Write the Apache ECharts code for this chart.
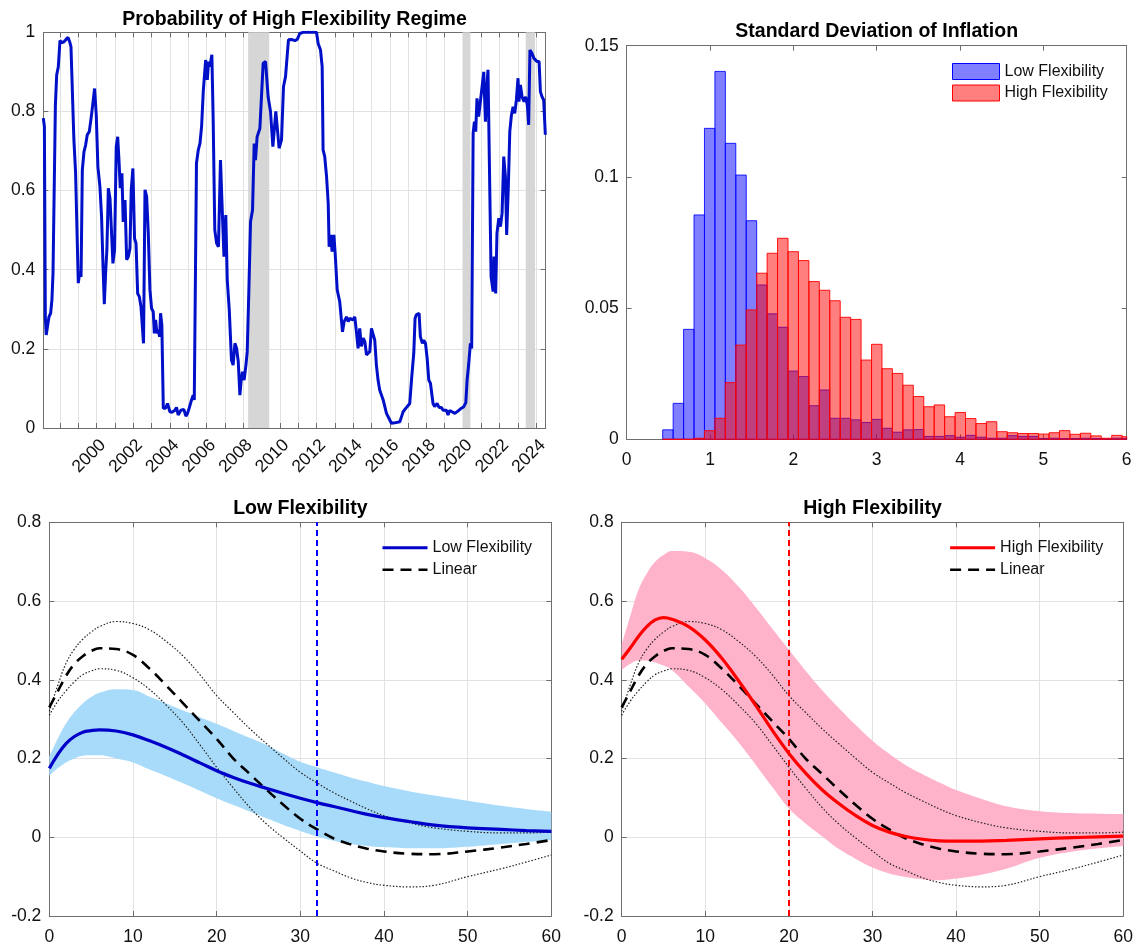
<!DOCTYPE html>
<html><head><meta charset="utf-8">
<script src="https://cdn.jsdelivr.net/npm/echarts@6/dist/echarts.min.js"></script>
<style>html,body{margin:0;padding:0;background:#fff}#c{width:1138px;height:948px}</style>
</head><body><div id="c"></div>
<script>
// ---------- Panel 1: probability of high flexibility regime ----------
const probDates = [
1997.09,1997.15,1997.20,1997.25,1997.33,1997.40,1997.49,1997.56,1997.62,1997.69,1997.75,1997.82,1997.91,
1998.00,1998.11,1998.22,1998.33,1998.44,1998.53,1998.60,1998.67,1998.76,1998.85,1998.93,
1999.00,1999.07,1999.15,1999.22,1999.31,1999.40,1999.49,1999.60,1999.71,1999.80,1999.89,1999.98,
2000.07,2000.18,2000.27,2000.35,2000.42,2000.49,2000.56,2000.64,2000.73,2000.82,2000.89,2000.98,
2001.07,2001.15,2001.22,2001.29,2001.38,2001.45,2001.55,2001.64,2001.73,2001.82,2001.89,2001.98,
2002.07,2002.15,2002.24,2002.33,2002.42,2002.56,2002.64,2002.73,2002.82,2002.91,
2003.00,2003.09,2003.15,2003.22,2003.29,2003.36,2003.44,2003.49,2003.56,2003.64,2003.76,2003.87,
2004.00,2004.13,2004.27,2004.36,2004.45,2004.60,2004.69,2004.76,2004.87,2004.96,
2005.05,2005.18,2005.27,2005.33,2005.45,2005.55,2005.64,2005.73,2005.82,2005.95,
2006.04,2006.11,2006.18,2006.29,2006.36,2006.45,2006.55,2006.65,2006.76,2006.85,2006.95,
2007.05,2007.13,2007.24,2007.36,2007.45,2007.55,2007.64,2007.73,2007.82,2007.89,2007.96,
2008.05,2008.15,2008.22,2008.31,2008.40,2008.51,2008.60,2008.67,2008.76,2008.91,
2009.09,2009.22,2009.36,2009.49,2009.62,2009.78,2009.96,
2010.09,2010.20,2010.31,2010.40,2010.47,2010.64,2010.82,2010.95,
2011.09,2011.27,2012.00,2012.09,2012.22,2012.31,2012.36,2012.45,2012.55,2012.64,2012.69,2012.78,2012.85,2012.95,
2013.02,2013.13,2013.27,2013.42,2013.51,2013.64,2013.73,2013.82,2013.91,
2014.00,2014.09,2014.18,2014.27,2014.36,2014.45,2014.55,2014.64,2014.73,2014.82,2014.91,
2015.00,2015.09,2015.18,2015.27,2015.36,2015.45,2015.55,2015.64,2015.73,2015.82,2015.96,
2016.09,2016.27,2016.55,2016.65,2016.73,2016.91,
2017.09,2017.20,2017.31,2017.38,2017.45,2017.60,2017.67,2017.78,2017.85,2017.95,
2018.04,2018.13,2018.22,2018.29,2018.36,2018.45,2018.58,2018.69,2018.82,2018.91,
2019.00,2019.09,2019.18,2019.27,2019.40,2019.55,2019.64,2019.78,2019.91,
2020.04,2020.15,2020.22,2020.31,2020.40,2020.47,2020.55,2020.62,2020.69,2020.76,2020.85,2020.95,
2021.04,2021.13,2021.22,2021.29,2021.36,2021.45,2021.53,2021.64,2021.69,2021.78,2021.85,2021.95,
2022.04,2022.13,2022.22,2022.31,2022.38,2022.47,2022.55,2022.64,2022.73,2022.82,2022.91,
2023.00,2023.05,2023.13,2023.22,2023.33,2023.42,2023.51,2023.58,2023.65,2023.76,2023.87,2023.96,
2024.04,2024.15,2024.22,2024.31,2024.40,2024.49
];
const probValues = [
0.783,0.762,0.281,0.235,0.26,0.281,0.29,0.323,0.391,0.395,0.816,0.892,0.913,
0.979,0.974,0.976,0.982,0.987,0.976,0.964,0.96,0.728,0.648,0.644,
0.366,0.391,0.382,0.652,0.698,0.715,0.741,0.749,0.787,0.789,0.858,0.791,
0.66,0.61,0.534,0.408,0.313,0.391,0.45,0.606,0.58,0.576,0.416,0.45,
0.711,0.736,0.677,0.606,0.644,0.521,0.576,0.425,0.433,0.454,0.602,0.656,
0.479,0.467,0.34,0.332,0.307,0.214,0.602,0.585,0.492,0.349,
0.302,0.294,0.239,0.273,0.239,0.248,0.231,0.29,0.26,0.05,0.05,0.062,
0.041,0.04,0.045,0.052,0.033,0.045,0.04,0.047,0.03,0.037,
0.05,0.071,0.083,0.071,0.669,0.703,0.719,0.762,0.85,0.93,
0.88,0.926,0.913,0.943,0.783,0.50,0.467,0.458,0.677,0.559,0.433,
0.538,0.374,0.298,0.172,0.159,0.214,0.201,0.168,0.083,0.121,0.142,
0.121,0.159,0.193,0.349,0.521,0.551,0.719,0.677,0.736,0.757,
0.922,0.926,0.837,0.80,0.711,0.80,0.707,
0.728,0.863,0.888,0.888,0.981,0.982,0.979,0.982,
0.997,1.0,1.0,0.972,0.955,0.913,0.703,0.686,0.635,0.568,0.458,0.488,0.446,0.488,
0.441,0.349,0.319,0.243,0.269,0.281,0.269,0.277,0.273,
0.273,0.281,0.243,0.201,0.252,0.206,0.227,0.218,0.185,0.185,0.193,
0.252,0.248,0.222,0.159,0.121,0.096,0.10,0.071,0.054,0.037,0.024,
0.012,0.013,0.016,0.03,0.041,0.052,
0.062,0.13,0.189,0.277,0.286,0.29,0.231,0.214,0.222,0.214,
0.176,0.121,0.113,0.113,0.062,0.054,0.062,0.052,0.052,0.045,
0.05,0.045,0.033,0.044,0.041,0.037,0.041,0.045,0.05,
0.054,0.064,0.121,0.163,0.214,0.201,0.745,0.774,0.749,0.833,0.787,0.791,
0.863,0.90,0.774,0.854,0.905,0.909,0.382,0.345,0.433,0.34,0.492,0.53,
0.509,0.543,0.686,0.635,0.488,0.61,0.749,0.791,0.812,0.795,0.829,
0.884,0.825,0.867,0.837,0.825,0.837,0.816,0.766,0.955,0.947,0.934,0.938,
0.926,0.926,0.85,0.837,0.829,0.741
];
const shadedPeriods = [[2008.27, 2009.42], [2019.97, 2020.40], [2023.42, 2023.93]];
const yearTicks = [1998,1999,2000,2001,2002,2003,2004,2005,2006,2007,2008,2009,2010,2011,2012,2013,2014,2015,2016,2017,2018,2019,2020,2021,2022,2023,2024];
const yearLabels = [2000,2002,2004,2006,2008,2010,2012,2014,2016,2018,2020,2022,2024];

// ---------- Panel 2: histogram of std. dev. of inflation ----------
const binStart = 0.432;
const binWidth = 0.1253;
const lowHist = [0.0036,0.0137,0.0419,0.0855,0.1185,0.1402,0.1128,0.1007,0.0833,0.0588,0.0478,0.0427,0.026,0.0239,0.0128,0.0188,0.008,0.008,0.0074,0.0064,0.0076,0.0042,0.0027,0.0036,0.0037,0.0011,0.0011,0.0014,0.0008,0.0015,0.0008,0.0004,0.0004,0.0014,0.0011,0.0011,0.0003,0.0004,0.0003,0.0003,0.0004,0.0003,0.0002,0.0004,0.0003];
const highHist = [0,0,0,0.0004,0.0033,0.008,0.0216,0.0359,0.0493,0.0633,0.0709,0.0766,0.0715,0.0681,0.0601,0.0568,0.0528,0.0465,0.0457,0.0302,0.0362,0.0269,0.0251,0.0206,0.0163,0.0124,0.0131,0.0086,0.0102,0.0079,0.006,0.0067,0.0029,0.0025,0.0022,0.0022,0.002,0.0025,0.0033,0.0019,0.0023,0.0013,0.0004,0.0015,0.001];

// ---------- Panels 3/4: impulse responses ----------
const irfHorizon = [0,1,2,3,4,5,6,8,10,12,14,16,18,20,22,24,26,28,30,32,34,36,38,40,43,46,50,54,57,60];
const lowIrf   = [0.175,0.21,0.238,0.256,0.267,0.271,0.273,0.27,0.26,0.245,0.228,0.209,0.189,0.169,0.152,0.137,0.124,0.111,0.099,0.088,0.078,0.068,0.058,0.05,0.04,0.031,0.024,0.02,0.017,0.015];
const lowUpper = [0.205,0.25,0.289,0.318,0.34,0.356,0.367,0.376,0.374,0.357,0.34,0.322,0.305,0.288,0.27,0.252,0.234,0.212,0.192,0.178,0.165,0.152,0.141,0.13,0.117,0.106,0.093,0.08,0.072,0.065];
const lowLower = [0.156,0.175,0.19,0.2,0.207,0.208,0.208,0.2,0.19,0.172,0.155,0.137,0.118,0.099,0.082,0.065,0.048,0.031,0.016,0.002,-0.009,-0.017,-0.022,-0.025,-0.028,-0.028,-0.024,-0.017,-0.012,-0.007];
const linearIrf   = [0.33,0.37,0.41,0.44,0.46,0.473,0.48,0.478,0.463,0.428,0.385,0.34,0.295,0.25,0.2,0.16,0.12,0.082,0.047,0.02,-0.003,-0.018,-0.029,-0.036,-0.042,-0.043,-0.036,-0.026,-0.017,-0.007];
const linearUpper = [0.32,0.385,0.442,0.478,0.503,0.521,0.535,0.548,0.543,0.527,0.497,0.46,0.413,0.36,0.317,0.275,0.237,0.2,0.165,0.138,0.113,0.092,0.072,0.055,0.037,0.024,0.015,0.011,0.011,0.013];
const linearLower = [0.31,0.345,0.372,0.395,0.413,0.422,0.428,0.424,0.405,0.375,0.335,0.29,0.235,0.178,0.125,0.075,0.033,-0.002,-0.035,-0.066,-0.085,-0.103,-0.115,-0.122,-0.126,-0.122,-0.1,-0.08,-0.063,-0.045];
const highIrf   = [0.452,0.48,0.51,0.535,0.552,0.558,0.554,0.535,0.501,0.454,0.397,0.336,0.272,0.213,0.163,0.12,0.085,0.055,0.03,0.013,0.002,-0.005,-0.009,-0.01,-0.01,-0.008,-0.004,-0.001,0.001,0.003];
const highUpper = [0.49,0.56,0.628,0.67,0.70,0.717,0.727,0.725,0.709,0.679,0.636,0.585,0.53,0.476,0.423,0.373,0.328,0.285,0.245,0.212,0.183,0.16,0.139,0.12,0.098,0.079,0.066,0.061,0.06,0.059];
const highLower = [0.425,0.44,0.449,0.449,0.444,0.436,0.425,0.383,0.34,0.29,0.24,0.185,0.128,0.073,0.035,0.002,-0.03,-0.055,-0.077,-0.092,-0.101,-0.107,-0.109,-0.105,-0.095,-0.08,-0.052,-0.036,-0.028,-0.022];
const lowThreshold = 32;
const highThreshold = 20;

// ---------- styling ----------
const FONT = '"Liberation Sans", Arial, Helvetica, sans-serif';
const AXC = '#6e6e6e';
const GRIDC = '#e2e2e2';
const TXT = '#111';
const titleStyle = {fontSize: 19.5, fontWeight: 'bold', color: '#000', fontFamily: FONT};
const tickFont = {color: TXT, fontSize: 17.5, fontFamily: FONT};

function zip(xs, ys) { return xs.map((x, i) => [x, ys[i]]); }
// value-first pairs so that the stack is applied on the value dimension
function zipValueFirst(xs, ys) { return xs.map((x, i) => [ys[i], x]); }
function lineAx(){ return {show: true, onZero: false, lineStyle: {color: AXC, width: 1}}; }
function tickAx(extra){ return Object.assign({show: true, inside: true, length: 5, lineStyle: {color: AXC, width: 1}}, extra || {}); }

function xBottom(gi, min, max, interval, grid, extraLabel, extraTick){
  return {type: 'value', gridIndex: gi, position: 'bottom', min, max, interval,
    axisLine: lineAx(), axisTick: tickAx(extraTick),
    axisLabel: Object.assign({margin: 12}, tickFont, extraLabel || {}),
    splitLine: {show: grid, lineStyle: {color: GRIDC, width: 1}}};
}
function xTop(gi, min, max, interval, title, gap, extraTick){
  return {type: 'value', gridIndex: gi, position: 'top', min, max, interval,
    name: title, nameLocation: 'middle', nameGap: gap, nameTextStyle: titleStyle,
    axisLine: lineAx(), axisTick: tickAx(extraTick), axisLabel: {show: false}, splitLine: {show: false}};
}
function yLeft(gi, min, max, interval, grid){
  return {type: 'value', gridIndex: gi, position: 'left', min, max, interval,
    axisLine: lineAx(), axisTick: tickAx(),
    axisLabel: Object.assign({margin: 8}, tickFont),
    splitLine: {show: grid, lineStyle: {color: GRIDC, width: 1}}};
}
function yRight(gi, min, max, interval){
  return {type: 'value', gridIndex: gi, position: 'right', min, max, interval,
    axisLine: lineAx(), axisTick: tickAx(), axisLabel: {show: false}, splitLine: {show: false}};
}

function histRender(fill, stroke){
  return function(params, api){
    const left = api.value(0);
    const p0 = api.coord([left, api.value(1)]);
    const p1 = api.coord([left + binWidth, 0]);
    const cs = params.coordSys;
    const shape = echarts.graphic.clipRectByRect(
      {x: p0[0], y: p0[1], width: p1[0] - p0[0], height: p1[1] - p0[1]},
      {x: cs.x, y: cs.y, width: cs.width, height: cs.height});
    return shape && {type: 'rect', shape, style: {fill, stroke, lineWidth: 1}};
  };
}

function irfSeries(xi, yi, prefix, name, mean, upper, lower, bandColor, lineColor, dashColor, threshold){
  const stackId = 'band' + xi;
  return [
    {type: 'line', xAxisIndex: xi, yAxisIndex: yi, data: zipValueFirst(irfHorizon, lower), encode: {x: 1, y: 0},
      stack: stackId, stackStrategy: 'all',
      symbol: 'none', smooth: 0.4, lineStyle: {opacity: 0}, silent: true, z: 1},
    {type: 'line', xAxisIndex: xi, yAxisIndex: yi, data: zipValueFirst(irfHorizon, upper.map((u, i) => u - lower[i])), encode: {x: 1, y: 0},
      stack: stackId, stackStrategy: 'all',
      symbol: 'none', smooth: 0.4, lineStyle: {opacity: 0}, areaStyle: {color: bandColor, opacity: 1}, silent: true, z: 1},
    {type: 'line', xAxisIndex: xi, yAxisIndex: yi, data: zip(irfHorizon, linearUpper), symbol: 'none', smooth: 0.4,
      lineStyle: {color: '#222', width: 1.2, type: [1.5, 1.8]}, silent: true, z: 2},
    {type: 'line', xAxisIndex: xi, yAxisIndex: yi, data: zip(irfHorizon, linearLower), symbol: 'none', smooth: 0.4,
      lineStyle: {color: '#222', width: 1.2, type: [1.5, 1.8]}, silent: true, z: 2},
    {type: 'line', name: prefix + 'Linear', xAxisIndex: xi, yAxisIndex: yi, data: zip(irfHorizon, linearIrf), symbol: 'none', smooth: 0.4,
      color: '#000', lineStyle: {color: '#000', width: 2.6, type: [11, 7]}, silent: true, z: 3},
    {type: 'line', name: prefix + name, xAxisIndex: xi, yAxisIndex: yi, data: zip(irfHorizon, mean), symbol: 'none', smooth: 0.4,
      color: lineColor, lineStyle: {color: lineColor, width: 3.2}, silent: true, z: 4,
      markLine: {silent: true, symbol: 'none', label: {show: false},
        lineStyle: {color: dashColor, width: 2, type: [6, 4]},
        data: [{xAxis: threshold}]}}
  ];
}

const legendFmt = n => n.split(':')[1];
const legendText = {fontSize: 16, color: TXT, fontFamily: FONT};
const noSymbol = {opacity: 0, borderWidth: 0};

const option = {
  animation: false,
  backgroundColor: '#fff',
  grid: [
    {left: 43.3, top: 32.3, width: 502.4, height: 395.7},
    {left: 626.7, top: 45.7, width: 500, height: 393.6},
    {left: 49.3, top: 522.3, width: 502, height: 393.7},
    {left: 621.7, top: 522.3, width: 501.6, height: 393.7}
  ],
  xAxis: [
    xBottom(0, 1997.09, 2024.51, undefined, true,
      {customValues: yearLabels, rotate: 45, align: 'right', verticalAlign: 'top', margin: 8, formatter: v => String(Math.round(v))},
      {customValues: yearTicks}),
    xTop(0, 1997.09, 2024.51, undefined, 'Probability of High Flexibility Regime', 3, {customValues: yearTicks}),
    xBottom(1, 0, 6, 1, false),
    xTop(1, 0, 6, 1, 'Standard Deviation of Inflation', 4),
    xBottom(2, 0, 60, 10, true),
    xTop(2, 0, 60, 10, 'Low Flexibility', 3.5),
    xBottom(3, 0, 60, 10, true),
    xTop(3, 0, 60, 10, 'High Flexibility', 3.5)
  ],
  yAxis: [
    yLeft(0, 0, 1, 0.2, true), yRight(0, 0, 1, 0.2),
    yLeft(1, 0, 0.15, 0.05, false), yRight(1, 0, 0.15, 0.05),
    yLeft(2, -0.2, 0.8, 0.2, true), yRight(2, -0.2, 0.8, 0.2),
    yLeft(3, -0.2, 0.8, 0.2, true), yRight(3, -0.2, 0.8, 0.2)
  ],
  legend: [
    {data: [
        {name: 'hist:Low Flexibility', icon: 'rect', itemStyle: {color: 'rgba(0,0,255,0.5)', borderColor: '#0000ff', borderWidth: 1}},
        {name: 'hist:High Flexibility', icon: 'rect', itemStyle: {color: 'rgba(255,0,0,0.5)', borderColor: '#ff0000', borderWidth: 1}}],
      left: 952, top: 63, padding: 0, orient: 'vertical', itemWidth: 47, itemHeight: 16, itemGap: 4.5,
      formatter: legendFmt, textStyle: legendText, selectedMode: false},
    {data: [
        {name: 'irfL:Low Flexibility', itemStyle: noSymbol, lineStyle: {color: '#0000c8', width: 3, type: 'solid'}},
        {name: 'irfL:Linear', itemStyle: noSymbol, lineStyle: {color: '#000', width: 2.6, type: [11, 7]}}],
      left: 381, top: 539.7, padding: 0, orient: 'vertical', itemWidth: 45, itemHeight: 14, itemGap: 6,
      formatter: legendFmt, textStyle: legendText, selectedMode: false},
    {data: [
        {name: 'irfH:High Flexibility', itemStyle: noSymbol, lineStyle: {color: '#ff0000', width: 3, type: 'solid'}},
        {name: 'irfH:Linear', itemStyle: noSymbol, lineStyle: {color: '#000', width: 2.6, type: [11, 7]}}],
      left: 948.6, top: 539.7, padding: 0, orient: 'vertical', itemWidth: 45, itemHeight: 14, itemGap: 6,
      formatter: legendFmt, textStyle: legendText, selectedMode: false}
  ],
  series: [
    {type: 'line', xAxisIndex: 0, yAxisIndex: 0, data: zip(probDates, probValues), symbol: 'none',
      lineStyle: {opacity: 0}, silent: true, z: 1,
      markArea: {silent: true, itemStyle: {color: '#d6d6d6'},
        data: shadedPeriods.map(p => [{xAxis: p[0]}, {xAxis: p[1]}])}},
    {type: 'line', xAxisIndex: 0, yAxisIndex: 0, data: zip(probDates, probValues), symbol: 'none',
      lineStyle: {color: '#0010c8', width: 3}, silent: true, z: 3},
    {type: 'custom', name: 'hist:Low Flexibility', xAxisIndex: 2, yAxisIndex: 2, color: 'rgba(0,0,255,0.5)',
      data: lowHist.map((v, i) => [binStart + i * binWidth, v]), encode: {x: 0, y: 1},
      renderItem: histRender('rgba(0,0,255,0.5)', 'rgba(0,0,255,0.85)'), silent: true, z: 2},
    {type: 'custom', name: 'hist:High Flexibility', xAxisIndex: 2, yAxisIndex: 2, color: 'rgba(255,0,0,0.5)',
      data: highHist.map((v, i) => [binStart + i * binWidth, v]), encode: {x: 0, y: 1},
      renderItem: histRender('rgba(255,0,0,0.5)', 'rgba(255,0,0,0.9)'), silent: true, z: 3},
    ...irfSeries(4, 4, 'irfL:', 'Low Flexibility', lowIrf, lowUpper, lowLower, '#a8dbfa', '#0000c8', '#0000ff', lowThreshold),
    ...irfSeries(6, 6, 'irfH:', 'High Flexibility', highIrf, highUpper, highLower, '#ffb3ca', '#ff0000', '#ff0000', highThreshold)
  ]
};

const chart = echarts.init(document.getElementById('c'));
chart.setOption(option);
</script>
</body></html>
